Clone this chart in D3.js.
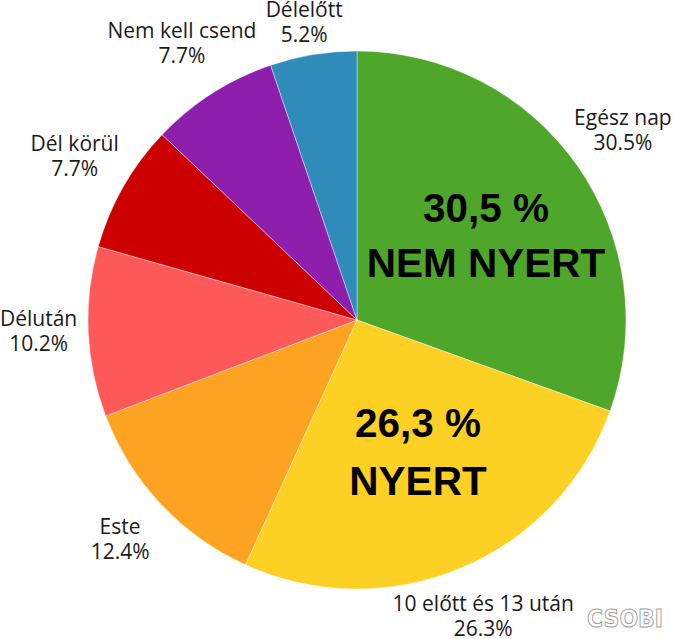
<!DOCTYPE html>
<html><head><meta charset="utf-8">
<script src="https://cdn.jsdelivr.net/npm/d3@7"></script>
<style>body{margin:0;background:#fff}svg{display:block}</style>
</head><body>
<script>
const categories = ["Egész nap","10 előtt és 13 után","Este","Délután","Dél körül","Nem kell csend","Délelőtt"];
const values = [30.5, 26.3, 12.4, 10.2, 7.7, 7.7, 5.2];
const colors = ["#4ea72a","#fdd123","#fca321","#fe5959","#cc0000","#8e1fad","#2e8bba"];
const overlayLines = [["30,5 %","NEM NYERT"],["26,3 %","NYERT"]];

const W=678,H=639,cx=357,cy=320,R=269,LR=325,FS=21,LH=25;
const svg=d3.select("body").append("svg").attr("width",W).attr("height",H);
const g=svg.append("g").attr("transform",`translate(${cx},${cy})`);
const pie=d3.pie().sort(null).value(d=>d)(values);
const arc=d3.arc().innerRadius(0).outerRadius(R);
g.selectAll("path").data(pie).join("path")
 .attr("d",arc).attr("fill",(d,i)=>colors[i]).attr("stroke","#fff").attr("stroke-width",0.4);

const lab=d3.arc().innerRadius(LR).outerRadius(LR);
pie.forEach((d,i)=>{
  let [x,y]=lab.centroid(d);
  x+=cx; y+=cy;
  const t=svg.append("text").attr("text-anchor","middle")
   .attr("font-family","Open Sans, sans-serif").attr("font-size",FS).attr("fill","#1a1a1a");
  const s1=t.append("tspan").text(categories[i]);
  const s2=t.append("tspan").text(values[i].toFixed(1)+"%");
  const bw=t.node().getBBox().width;
  // keep labels within the viewport
  let y1=y-8;
  y1=Math.max(y1,17); y1=Math.min(y1,H-2-LH);
  const w1=s1.node().getComputedTextLength(), w2=s2.node().getComputedTextLength();
  const hw=Math.max(w1,w2)/2;
  x=Math.max(x,hw); x=Math.min(x,W-hw);
  s1.attr("x",x).attr("y",y1);
  s2.attr("x",x).attr("y",y1+LH);
});

// overlay big texts
const big=[{x:486,y:[222,277]},{x:418,y:[437,495]}];
overlayLines.forEach((ls,k)=>{
  ls.forEach((s,j)=>{
    svg.append("text").attr("x",big[k].x).attr("y",big[k].y[j]).attr("text-anchor","middle")
     .attr("font-family","Liberation Sans, Arial, sans-serif").attr("font-weight",700).attr("font-size",40.5)
     .attr("fill","#000").text(s);
  });
});

svg.append("text").attr("x",587).attr("y",627)
 .attr("font-family","DejaVu Sans, sans-serif").attr("font-weight",700).attr("font-size",24)
 .attr("textLength",76).attr("lengthAdjust","spacingAndGlyphs")
 .attr("fill","#fff").attr("stroke","#a0a0a0").attr("stroke-width",1).text("CSOBI");
</script>
</body></html>
